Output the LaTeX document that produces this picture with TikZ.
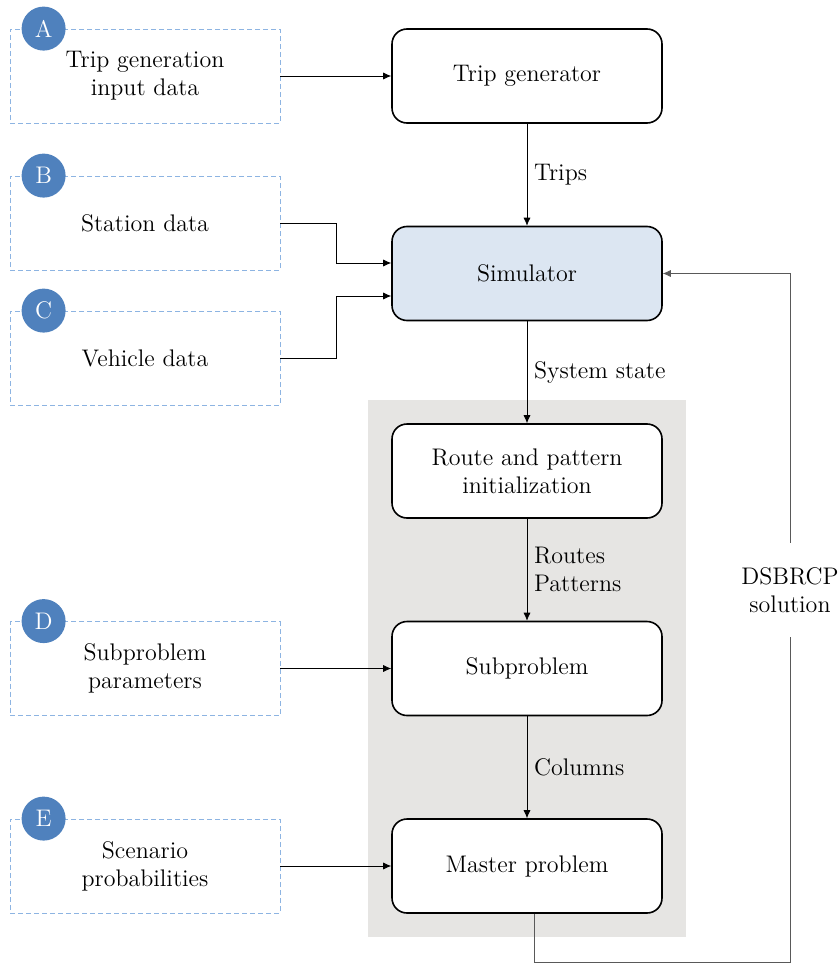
\documentclass[tikz,border=0pt]{standalone}
\usetikzlibrary{fit,backgrounds,arrows.meta}
\definecolor{simblue}{RGB}{220,230,242}
\definecolor{badgeblue}{RGB}{79,129,189}
\definecolor{dashblue}{RGB}{141,180,226}
\definecolor{bggray}{RGB}{230,229,227}
\begin{document}
\begin{tikzpicture}[x=0.5pt, y=0.5pt, node distance={98.75pt}, font=\fontsize{12}{14}\selectfont,
  main/.style = {draw, thick, rounded corners=7.5pt, minimum width=135pt, minimum height=47pt, align=center, fill=white},
  data/.style = {draw=dashblue, dash pattern=on 2.5pt off 1.5pt, minimum width=135pt, minimum height=47pt, align=center},
  badge/.style = {circle, fill=badgeblue, text=white, minimum size=22pt, inner sep=0pt},
  arr/.style = {-{Latex[length=4pt, width=3.6pt]}, thin}]
\useasboundingbox (0,0) rectangle (839,-963);
\node[main] (gen) at (527,-76) {Trip generator};
\node[main, fill=simblue] (sim) [below of=gen] {Simulator};
\node[main] (init) [below of=sim] {Route and pattern\\initialization};
\node[main] (sub) [below of=init] {Subproblem};
\node[main] (master) [below of=sub] {Master problem};
\node[data] (a) [node distance=191pt, left of=gen] {Trip generation\\input data};
\node[data] (b) [node distance=191pt, left of=sim, yshift=25.25pt] {Station data};
\node[data] (c) [node distance=191pt, left of=sim, yshift=-42.25pt] {Vehicle data};
\node[data] (d) [node distance=191pt, left of=sub] {Subproblem\\parameters};
\node[data] (e) [node distance=191pt, left of=master] {Scenario\\probabilities};
\node[badge] (ba) at ([xshift=17pt]a.north west) {A};
\node[badge] (bb) at ([xshift=17pt]b.north west) {B};
\node[badge] (bc) at ([xshift=17pt]c.north west) {C};
\node[badge] (bd) at ([xshift=17pt]d.north west) {D};
\node[badge] (be) at ([xshift=17pt]e.north west) {E};
\begin{scope}[on background layer]
\node[fit=(init)(master), fill=bggray, inner xsep=11.5pt, inner ysep=11.5pt] (core) {};
\end{scope}
\draw[arr] (a) -- (gen);
\draw[arr] (gen) -- node[right] {Trips} (sim);
\draw[arr] (sim) -- node[right] {System state} (init);
\draw[arr] (init) -- node[right, align=left] {Routes\\Patterns} (sub);
\draw[arr] (sub) -- node[right] {Columns} (master);
\draw[arr] (b.east) -- ++(28pt,0) |- ([yshift=5.25pt]sim.west);
\draw[arr] (c.east) -- ++(28pt,0) |- ([yshift=-11.25pt]sim.west);
\draw[arr] (d) -- (sub);
\draw[arr] (e) -- (master);
% feedback to the simulator
\coordinate (fbc) at (790,-962);
\draw[arr, draw=black!65] ([xshift=3.5pt]master.south) |- (fbc) |- (sim.east);
\node[fill=white, inner xsep=2pt, inner ysep=12pt, align=center] (sol) at (790,-590) {DSBRCP\\solution};
\end{tikzpicture}
\end{document}
